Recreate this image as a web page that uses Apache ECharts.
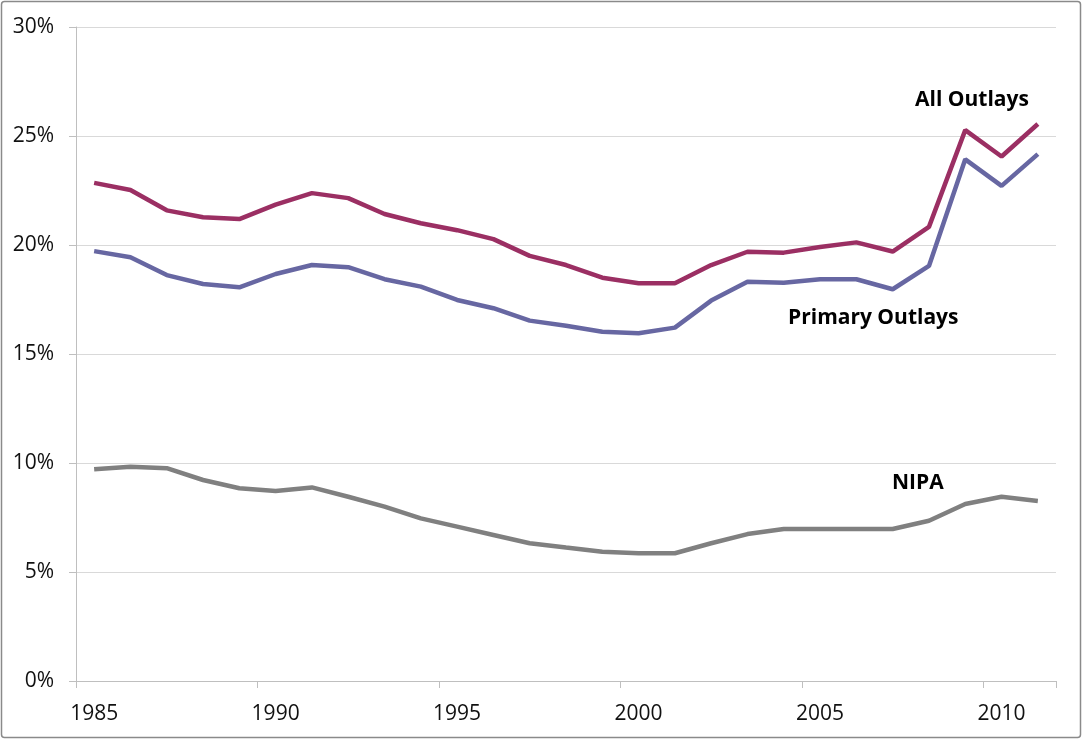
<!DOCTYPE html>
<html>
<head>
<meta charset="utf-8">
<script src="https://cdn.jsdelivr.net/npm/echarts@6/dist/echarts.min.js"></script>
<style>
html,body{margin:0;padding:0;background:#fff;}
#chart{width:1083px;height:740px;}
</style>
</head>
<body>
<div id="chart"></div>
<script>
const years = ['1985','1986','1987','1988','1989','1990','1991','1992','1993','1994','1995','1996','1997','1998','1999','2000','2001','2002','2003','2004','2005','2006','2007','2008','2009','2010','2011'];
const allOutlays = [22.85,22.52,21.59,21.27,21.19,21.85,22.38,22.15,21.42,21.0,20.68,20.27,19.5,19.08,18.5,18.25,18.25,19.08,19.69,19.65,19.91,20.12,19.7,20.83,25.27,24.06,25.55];
const primaryOutlays = [19.72,19.44,18.62,18.21,18.06,18.67,19.08,18.98,18.43,18.09,17.48,17.1,16.53,16.3,16.02,15.95,16.21,17.45,18.31,18.27,18.43,18.43,17.97,19.04,23.93,22.71,24.17];
const nipa = [9.71,9.83,9.76,9.22,8.84,8.72,8.88,8.45,8.0,7.46,7.08,6.7,6.32,6.12,5.93,5.86,5.86,6.32,6.74,6.97,6.97,6.97,6.97,7.35,8.12,8.45,8.26];
const yTicks = [0,5,10,15,20,25,30];

const FONT = '"Open Sans", "Liberation Sans", sans-serif';
const chart = echarts.init(document.getElementById('chart'), null, {renderer:'canvas'});
chart.setOption({
  animation:false,
  backgroundColor:'#ffffff',
  grid:{left:76,right:27,top:27,bottom:59,containLabel:false},
  xAxis:{
    type:'category',
    data:years,
    boundaryGap:true,
    axisLine:{lineStyle:{color:'#BFBFBF',width:1}},
    axisTick:{show:true,interval:4,length:7,lineStyle:{color:'#BFBFBF'}},
    axisLabel:{interval:4,margin:23,color:'#111',fontSize:21,fontFamily:FONT},
    splitLine:{show:false}
  },
  yAxis:{
    type:'value',
    min:yTicks[0],max:yTicks[yTicks.length-1],interval:5,
    axisLine:{show:true,lineStyle:{color:'#BFBFBF',width:1}},
    axisTick:{show:true,length:7,lineStyle:{color:'#BFBFBF'}},
    axisLabel:{formatter:'{value}%',margin:22,color:'#111',fontSize:21,fontFamily:FONT},
    splitLine:{show:true,lineStyle:{color:'#D9D9D9',width:1}}
  },
  series:[
    {name:'All Outlays',type:'line',data:allOutlays,symbol:'none',lineStyle:{color:'#9B2F63',width:4.5},itemStyle:{color:'#9B2F63'}},
    {name:'Primary Outlays',type:'line',data:primaryOutlays,symbol:'none',lineStyle:{color:'#6767A2',width:4.5},itemStyle:{color:'#6767A2'}},
    {name:'NIPA',type:'line',data:nipa,symbol:'none',lineStyle:{color:'#808080',width:4.5},itemStyle:{color:'#808080'}}
  ],
  graphic:[
    {type:'rect',shape:{x:1.5,y:1.5,width:1079,height:736,r:3},style:{fill:'none',stroke:'#8A8A8A',lineWidth:1.5},silent:true,z:100},
    {type:'text',left:915,top:90,style:{text:'All Outlays',font:'bold 21px '+FONT,fill:'#000'}},
    {type:'text',left:788,top:308,style:{text:'Primary Outlays',font:'bold 21px '+FONT,fill:'#000'}},
    {type:'text',left:892,top:473,style:{text:'NIPA',font:'bold 21px '+FONT,fill:'#000'}}
  ]
});
</script>
</body>
</html>
